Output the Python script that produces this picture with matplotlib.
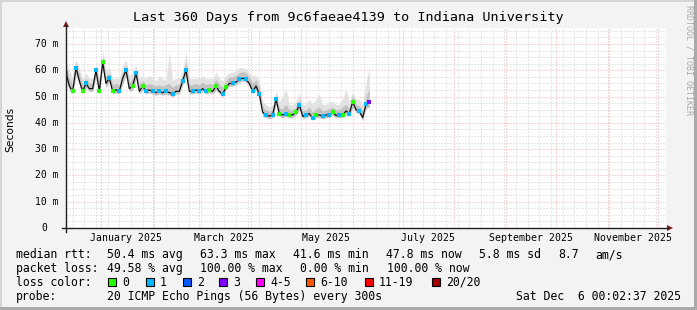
import matplotlib
matplotlib.use('Agg')
import matplotlib.pyplot as plt
import matplotlib.dates as mdates
from matplotlib.patches import Rectangle, Polygon
from matplotlib.lines import Line2D
from matplotlib.ticker import MultipleLocator
import matplotlib.transforms as mtrans
import datetime as dt

# ---------------- data ----------------
start = dt.datetime(2024, 12, 11, 0, 2, 37)
end = dt.datetime(2025, 12, 6, 0, 2, 37)
step_days = 2

median_ms = [59, 54, 52, 61, 56, 52, 55, 53, 53, 60,
             52, 63, 55, 57, 52, 52.5, 52, 57, 60, 53,
             54, 59, 52, 54, 52, 52.5, 52, 51.5, 52, 51.5,
             52, 51.5, 51, 52, 52, 56, 60, 52, 52, 52.5,
             52, 53, 52, 52.5, 52, 54, 52, 51, 53.5, 55,
             55, 55.5, 56.5, 57, 56.5, 55, 52, 54, 51, 44,
             43, 42.6, 43, 49, 43.5, 43, 43.5, 43, 43, 44,
             46.8, 42.5, 43, 43.5, 41.8, 43, 43, 42.5, 43, 43,
             44, 42.8, 43, 43, 44.5, 43.5, 48, 45, 44.5, 42,
             47, 48]

max_ms = [64, 60, 57, 64, 61, 57, 59, 57, 57, 62,
          57, 67.5, 60, 61, 57, 57, 57, 62, 64, 58,
          59, 62, 57, 58, 57, 58, 57, 56, 58, 57,
          56, 67, 56, 57, 57, 60, 67, 57, 57, 57,
          57, 58, 57, 57, 57, 59, 57, 56, 58, 59,
          59, 60, 61, 61, 60.5, 59, 58, 58, 56, 48,
          47, 46, 47, 52, 48, 50, 53, 47, 47, 48,
          51, 47, 47, 49, 47, 49, 51, 47, 47, 48,
          48, 47, 47, 49, 53, 48, 52, 49, 49, 47,
          55, 61]

p75_ms = [61.5, 57, 54.5, 63, 58.5, 54.5, 57, 55, 55, 61.5,
          54.5, 65, 57.5, 59, 54.5, 55, 54.5, 59, 62, 55.5,
          56.5, 60.5, 54.5, 56, 54.5, 55, 54.5, 54, 54.5, 54,
          54.5, 55, 53.5, 54.5, 54.5, 58, 63, 54.5, 54.5, 55,
          54.5, 55.5, 54.5, 55, 54.5, 56.5, 54.5, 53.5, 56, 57.5,
          57.5, 58, 59, 59.5, 59, 57.5, 55, 56.5, 53.5, 46,
          45, 44.5, 45, 51, 45.5, 45.5, 47, 45, 45, 46,
          49, 44.5, 45, 46, 44, 45.5, 46, 44.5, 45, 45.5,
          46, 45, 45, 46, 47, 45.5, 50.5, 47, 46.5, 44.5,
          50, 53]

min_ms = [57.5, 52.5, 51, 58.5, 54.5, 51, 53.5, 52, 52, 58,
          51, 61, 53.5, 55.5, 51, 51.5, 51, 55, 58, 52,
          52.5, 57, 51, 52.5, 51, 51.5, 51, 50.5, 51, 50.5,
          51, 50.5, 50, 51, 51, 54.5, 58, 51, 51, 51.5,
          51, 52, 51, 51.5, 51, 52.5, 51, 50, 52.5, 54,
          54, 54.5, 55.5, 56, 55.5, 54, 51, 52.5, 50, 42.5,
          42, 41.6, 42, 47, 42.5, 42, 42.5, 42, 42, 43,
          45, 41.6, 42, 42.5, 41, 42, 42, 41.6, 42, 42,
          43, 42, 42, 42, 43.5, 42.5, 46, 44, 43.5, 41,
          45.5, 46]

# loss class per point: '' = no colour (mixed), else key of loss_colors
loss_class = ['1', '', '0', '1', '', '0', '1', '', '', '1',
              '0', '0', '', '1', '0', '', '1', '', '1', '',
              '0', '1', '', '0', '1', '', '1', '', '1', '',
              '1', '', '1', '', '', '1', '1', '', '1', '',
              '1', '', '1', '0', '', '0', '', '1', '0', '',
              '1', '', '1', '', '1', '', '1', '', '1', '',
              '1', '', '1', '1', '0', '', '1', '0', '', '0',
              '1', '', '1', '', '1', '0', '', '1', '', '1',
              '0', '', '1', '0', '', '1', '0', '', '1', '',
              '1', '3']

loss_labels = ['0', '1', '2', '3', '4-5', '6-10', '11-19', '20/20']
loss_colors = ['#26ff00', '#00b8ff', '#0059ff', '#7e00ff', '#ff00ff',
               '#ff5500', '#ff0000', '#a10000']

month_labels = ['January 2025', 'March 2025', 'May 2025', 'July 2025',
                'September 2025', 'November 2025']
month_label_dates = [dt.datetime(2025, 1, 16), dt.datetime(2025, 3, 16),
                     dt.datetime(2025, 5, 16), dt.datetime(2025, 7, 16),
                     dt.datetime(2025, 9, 16), dt.datetime(2025, 11, 16)]
y_ticks = [0, 10, 20, 30, 40, 50, 60, 70]

title = 'Last 360 Days from 9c6faeae4139 to Indiana University'
row1 = [('median rtt:', 16), ('50.4 ms avg', 107.3), ('63.3 ms max', 200),
        ('41.6 ms min', 292.7), ('47.8 ms now', 385.7), ('5.8 ms sd', 479),
        ('8.7', 558), ('am/s', 595.5)]
row2 = [('packet loss:', 16), ('49.58 % avg', 107.3), ('100.00 % max', 200),
        ('0.00 % min', 300), ('100.00 % now', 386.7)]
probe_text = '20 ICMP Echo Pings (56 Bytes) every 300s'
stamp_text = 'Sat Dec  6 00:02:37 2025'

dates = [start + dt.timedelta(days=step_days * i) for i in range(len(median_ms))]

# ---------------- figure ----------------
W, H = 697, 310
fig = plt.figure(figsize=(W / 100, H / 100), dpi=100)
fig.patch.set_facecolor('#f3f3f3')


def fx(px):
    return px / W


def fy(py):
    return 1 - py / H


MONO = 'DejaVu Sans Mono'
L, R, T, B = 66, 666, 28, 228
ax = fig.add_axes([fx(L), fy(B), (R - L) / W, (B - T) / H])
ax.set_facecolor('white')
ax.set_xlim(start, end)
ax.set_ylim(0, (B - T) / 2.6286)

ax.xaxis.set_major_locator(mdates.MonthLocator())
ax.xaxis.set_minor_locator(mdates.WeekdayLocator(byweekday=mdates.SU))
ax.yaxis.set_major_locator(MultipleLocator(10))
ax.yaxis.set_minor_locator(MultipleLocator(2.5))
ax.tick_params(which='both', length=0, labelbottom=False, labelleft=False)
for s in ax.spines.values():
    s.set_visible(False)
ax.grid(which='minor', color='#cfcfcf', linestyle=(0, (1, 2)), linewidth=0.72)
ax.grid(which='major', color='#f0a8a8', linestyle=(0, (1, 2)), linewidth=0.72)
ax.set_axisbelow(True)

# smoke
ax.fill_between(dates, min_ms, max_ms, color='#e2e2e2', lw=0, zorder=2)
ax.fill_between(dates, min_ms, p75_ms, color='#c2c2c2', lw=0, zorder=3)
ax.plot(dates, median_ms, color='#111111', lw=0.9, zorder=4)
for key, col in zip(loss_labels, loss_colors):
    xs = [d for d, c in zip(dates, loss_class) if c == key]
    ys = [m for m, c in zip(median_ms, loss_class) if c == key]
    if xs:
        ax.plot(xs, ys, linestyle='none', marker='s', markersize=2.7,
                markeredgewidth=0, color=col, zorder=5)

# y tick labels
tr_y = mtrans.blended_transform_factory(fig.transFigure, ax.transData)
for v in y_ticks:
    if v == 0:
        ax.text(fx(47.5), v, '0', transform=tr_y, ha='right', va='center',
                family=MONO, fontsize=7)
    else:
        ax.text(fx(58.5), v, f'{v} m', transform=tr_y, ha='right', va='center',
                family=MONO, fontsize=7)

# x labels
tr_x = mtrans.blended_transform_factory(ax.transData, fig.transFigure)
for d, lab in zip(month_label_dates, month_labels):
    ax.text(d, fy(238), lab, transform=tr_x, ha='center', va='center',
            family=MONO, fontsize=7.1)

# axes lines and arrows
fig.add_artist(Line2D([fx(L), fx(L)], [fy(B + 4), fy(T - 3)], color='#1f1f1f', lw=1.0))
fig.add_artist(Line2D([fx(L - 4), fx(R + 2)], [fy(B), fy(B)], color='#1f1f1f', lw=1.0))
fig.add_artist(Polygon([[fx(L - 3), fy(T - 1)], [fx(L + 3), fy(T - 1)], [fx(L), fy(T - 7)]],
                       closed=True, color='#7f1f1f', lw=0))
fig.add_artist(Polygon([[fx(R + 1), fy(B - 3)], [fx(R + 1), fy(B + 3)], [fx(R + 7), fy(B)]],
                       closed=True, color='#7f1f1f', lw=0))

# title / labels
fig.text(fx(348), fy(18), title, ha='center', va='center', family=MONO, fontsize=9.7)
fig.text(fx(10), fy(129), 'Seconds', rotation=90, ha='center', va='center',
         family='DejaVu Sans', fontsize=7.7)
fig.text(fx(689), fy(5), 'RRDTOOL / TOBI OETIKER', rotation=270, ha='center', va='top',
         family=MONO, fontsize=6, color='#a8a8a8')

# legend rows
LS = 8.3
for txt, x in row1:
    fig.text(fx(x), fy(254.5), txt, ha='left', va='center', family=MONO, fontsize=LS)
for txt, x in row2:
    fig.text(fx(x), fy(268.5), txt, ha='left', va='center', family=MONO, fontsize=LS)
fig.text(fx(16), fy(282), 'loss color:', ha='left', va='center', family=MONO, fontsize=LS)
box_x = [108.3, 146, 182.7, 219.3, 256, 306, 365, 432]
for lab, col, bx in zip(loss_labels, loss_colors, box_x):
    fig.add_artist(Rectangle((fx(bx), fy(286)), 8 / W, 8 / H, transform=fig.transFigure,
                             facecolor=col, edgecolor='black', lw=0.8))
    fig.text(fx(bx + 14), fy(282), lab, ha='left', va='center', family=MONO, fontsize=LS)
fig.text(fx(16), fy(296.5), 'probe:', ha='left', va='center', family=MONO, fontsize=LS)
fig.text(fx(107.3), fy(296.5), probe_text, ha='left', va='center', family=MONO, fontsize=LS)
fig.text(fx(680.5), fy(296.5), stamp_text, ha='right', va='center', family=MONO, fontsize=LS)

# 3D frame
fig.add_artist(Rectangle((0, 0), 2 / W, 1, transform=fig.transFigure, color='#d6d6d6', lw=0))
fig.add_artist(Rectangle((0, 1 - 2 / H), 1, 2 / H, transform=fig.transFigure, color='#d6d6d6', lw=0))
fig.add_artist(Rectangle((1 - 3 / W, 0), 3 / W, 1, transform=fig.transFigure, color='#a9a9a9', lw=0))
fig.add_artist(Rectangle((0, 0), 1, 3 / H, transform=fig.transFigure, color='#a9a9a9', lw=0))

fig.savefig('out.png', dpi=100, facecolor=fig.get_facecolor())
